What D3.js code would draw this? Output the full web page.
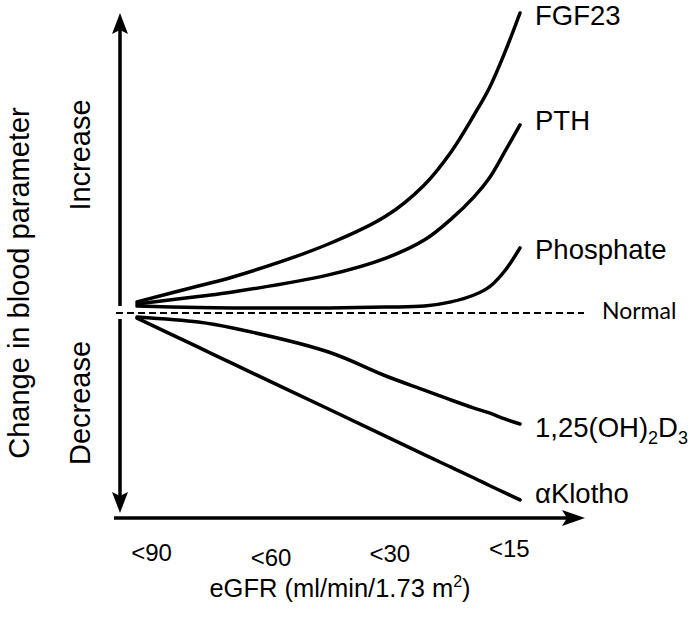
<!DOCTYPE html>
<html>
<head>
<meta charset="utf-8">
<script src="https://cdn.jsdelivr.net/npm/d3@7"></script>
<style>
  html, body { margin: 0; padding: 0; background: #fff; }
  svg { display: block; }
  text { font-family: "Liberation Sans", Arial, sans-serif; fill: #000; }
</style>
</head>
<body>
<svg id="chart" width="696" height="618"></svg>
<script>
// ---- data (progression along eGFR axis 0..100, change from normal) ----
const progress = [0, 16, 25, 50, 65, 75, 82, 88, 92, 96, 100];
const fgf23     = [3.7, 9, 12, 23, 32.3, 42.7, 53.7, 66, 75, 86.7, 100];
const pth       = [3, 5.5, 7, 12.7, 18.3, 24.3, 31.3, 38.7, 45, 53.7, 62.7];
const phosphate = [2.3, 1.8, 1.7, 1.7, 2, 2.3, 3.7, 6, 8.7, 14, 21.7];
const vitD      = [-1.3, -3, -5, -13, -21, -25.7, -29, -31.7, -33.3, -35.3, -37];
const klotho    = [-1.7, -11.4, -16.9, -32, -41.1, -47.2, -51.4, -55, -57.5, -59.9, -62.3];
const tickLabels = ["<90", "<60", "<30", "<15"];
const tickPos    = [3.8, 35, 66, 97.2];
const seriesNames = ["FGF23", "PTH", "Phosphate", "1,25(OH)2D3", "αKlotho"];

(function () {
const svg = d3.select("#chart");
const x = d3.scaleLinear().domain([0, 100]).range([137, 520]);
const y = d3.scaleLinear().domain([-65, 100]).range([508, 13]);

const axisX = 120;
const baseY = 518;
const normalY = y(0);

// vertical axis (broken at normal line)
svg.append("line").attr("x1", axisX).attr("x2", axisX)
  .attr("y1", y(100) + 16).attr("y2", normalY - 7)
  .attr("stroke", "#000").attr("stroke-width", 3.5);
svg.append("line").attr("x1", axisX).attr("x2", axisX)
  .attr("y1", normalY + 6).attr("y2", baseY - 20)
  .attr("stroke", "#000").attr("stroke-width", 3.5);
const topY = y(100);
svg.append("path")
  .attr("d", `M${axisX},${topY} L${axisX + 8},${topY + 21} L${axisX},${topY + 17} L${axisX - 8},${topY + 21} Z`)
  .attr("fill", "#000");
const botY = baseY - 5;
svg.append("path")
  .attr("d", `M${axisX},${botY} L${axisX + 8},${botY - 21} L${axisX},${botY - 17} L${axisX - 8},${botY - 21} Z`)
  .attr("fill", "#000");
// horizontal axis
const xEnd = 585;
svg.append("line").attr("x1", 114).attr("x2", xEnd - 15)
  .attr("y1", baseY).attr("y2", baseY)
  .attr("stroke", "#000").attr("stroke-width", 3.5);
svg.append("path")
  .attr("d", `M${xEnd},${baseY} L${xEnd - 23},${baseY - 8} L${xEnd - 18},${baseY} L${xEnd - 23},${baseY + 8} Z`)
  .attr("fill", "#000");

// normal dashed line
svg.append("line").attr("x1", 116).attr("x2", 584)
  .attr("y1", normalY).attr("y2", normalY)
  .attr("stroke", "#000").attr("stroke-width", 2)
  .attr("stroke-dasharray", "7,4");
svg.append("text").attr("x", 602).attr("y", normalY + 6)
  .style("font-family", "Lato, 'Open Sans', sans-serif")
  .style("font-size", "23px").text("Normal");

// curves
const line = d3.line()
  .x((d, i) => x(progress[i]))
  .y(d => y(d))
  .curve(d3.curveCatmullRom.alpha(0.5));
const all = [fgf23, pth, phosphate, vitD, klotho];
all.forEach(s => {
  svg.append("path").attr("d", line(s))
    .attr("fill", "none").attr("stroke", "#000")
    .attr("stroke-width", 3.5).attr("stroke-linecap", "round");
});

// series labels
const labX = 535;
const lastVals = all.map(s => s[s.length - 1]);
const labOffsets = [12, 5, 11, 13, 3];
seriesNames.forEach((n, i) => {
  const t = svg.append("text").attr("x", labX).attr("y", y(lastVals[i]) + labOffsets[i])
    .style("font-size", "27.5px");
  if (n === "1,25(OH)2D3") {
    t.append("tspan").text("1,25(OH)");
    t.append("tspan").attr("dy", 7).style("font-size", "18px").text("2");
    t.append("tspan").attr("dy", -7).text("D");
    t.append("tspan").attr("dy", 7).style("font-size", "18px").text("3");
  } else {
    t.text(n);
  }
});

// x tick labels
const tickBase = [561, 566, 562, 557];
tickLabels.forEach((l, i) => {
  svg.append("text").attr("x", x(tickPos[i])).attr("y", tickBase[i])
    .attr("text-anchor", "middle").style("font-size", "24px").text(l);
});

// x axis title
const xt = svg.append("text").attr("x", 340).attr("y", 597)
  .attr("text-anchor", "middle").style("font-size", "25.5px");
xt.append("tspan").text("eGFR (ml/min/1.73 m");
xt.append("tspan").attr("dy", -10).style("font-size", "16px").text("2");
xt.append("tspan").attr("dy", 10).text(")");

// y axis titles
svg.append("text").attr("transform", "translate(29,283) rotate(-90)")
  .attr("text-anchor", "middle").style("font-size", "29px").text("Change in blood parameter");
svg.append("text").attr("transform", "translate(90,155) rotate(-90)")
  .attr("text-anchor", "middle").style("font-size", "29px").text("Increase");
svg.append("text").attr("transform", "translate(90,403) rotate(-90)")
  .attr("text-anchor", "middle").style("font-size", "29px").text("Decrease");
})();
</script>
</body>
</html>
